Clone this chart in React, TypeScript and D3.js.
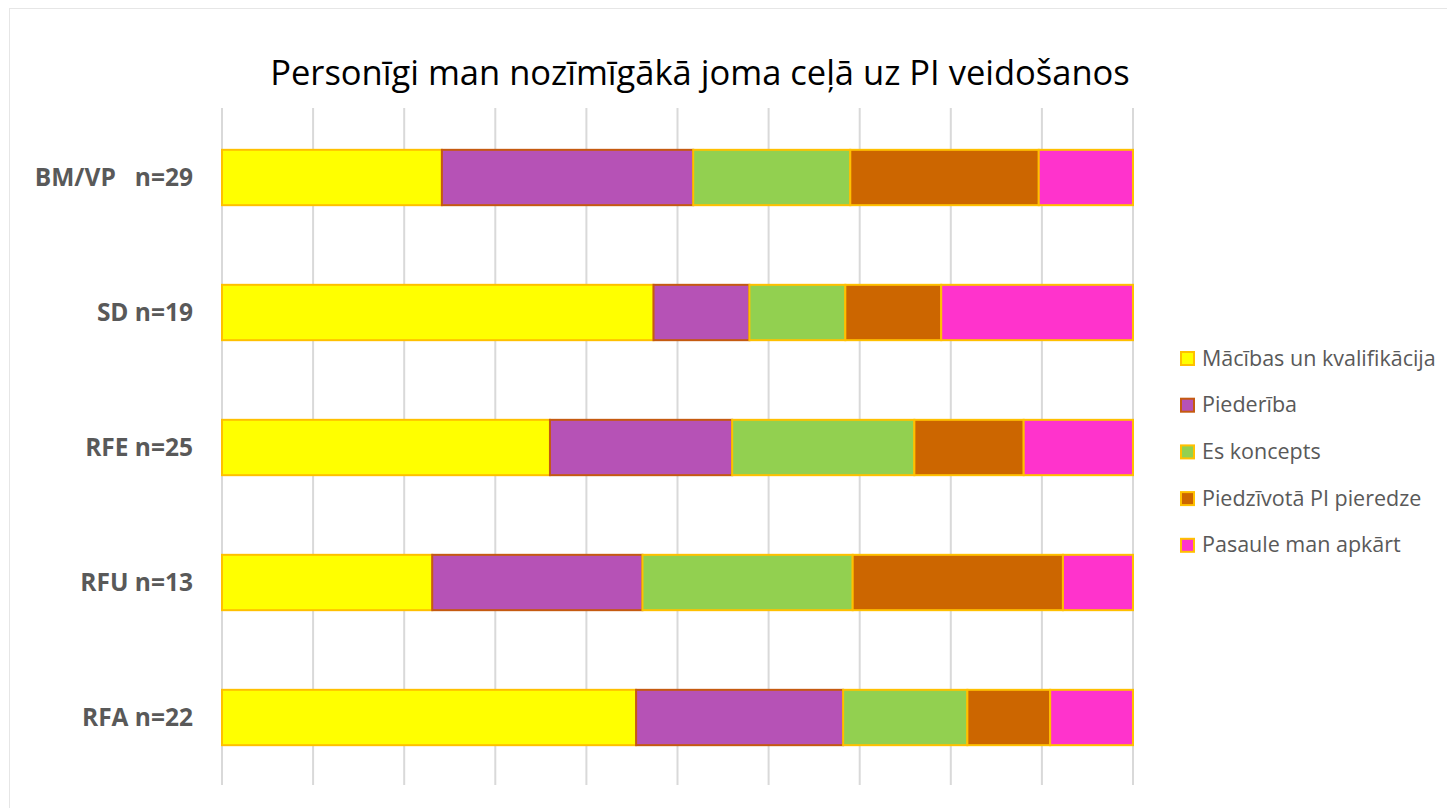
import React, { useEffect, useRef } from "react";
import * as d3 from "d3";

const categories = ["BM/VP   n=29", "SD n=19", "RFE n=25", "RFU n=13", "RFA n=22"];
const seriesNames = [
  "Mācības un kvalifikācija",
  "Piederība",
  "Es koncepts",
  "Piedzīvotā PI pieredze",
  "Pasaule man apkārt",
];
// answer counts per group, in series order
const macibas = [7, 9, 9, 3, 10];
const piederiba = [8, 2, 5, 3, 5];
const esKoncepts = [5, 2, 5, 3, 3];
const pieredze = [6, 2, 3, 3, 2];
const pasaule = [3, 4, 3, 1, 2];
const fills = ["#FFFF00", "#B652B6", "#92D050", "#CC6600", "#FF33CC"];
const strokes = ["#FFC000", "#C55A11", "#FFC000", "#FFC000", "#FFC000"];
const gridTicks = [0, 0.1, 0.2, 0.3, 0.4, 0.5, 0.6, 0.7, 0.8, 0.9, 1];

export default function App() {
  const ref = useRef<SVGSVGElement>(null);

  useEffect(() => {
    const width = 1447;
    const height = 808;
    const svg = d3.select(ref.current);
    svg.selectAll("*").remove();

    svg.append("rect")
      .attr("x", 9.5).attr("y", 8.5)
      .attr("width", 1460).attr("height", 820)
      .attr("fill", "white").attr("stroke", "#E6E6E6");

    const left = 222, right = 1133, top = 110, bottom = 785;
    const x = d3.scaleLinear().domain([0, 1]).range([left, right]);
    const y = d3.scaleBand().domain(categories).range([top, bottom]).paddingInner(0.59).paddingOuter(0.295);

    svg.append("g")
      .selectAll("line")
      .data(gridTicks)
      .enter()
      .append("line")
      .attr("x1", (d) => x(d)).attr("x2", (d) => x(d))
      .attr("y1", top - 2).attr("y2", bottom)
      .attr("stroke", "#D9D9D9").attr("stroke-width", 2);

    const rows = categories.map((c, i) => {
      const vals = [macibas[i], piederiba[i], esKoncepts[i], pieredze[i], pasaule[i]];
      const total = d3.sum(vals);
      const row: any = { cat: c };
      seriesNames.forEach((s, j) => (row[s] = vals[j] / total));
      return row;
    });
    const stacked = d3.stack().keys(seriesNames)(rows);

    stacked.forEach((layer, j) => {
      svg.append("g")
        .selectAll("rect")
        .data(layer)
        .enter()
        .append("rect")
        .attr("x", (d) => x(d[0]))
        .attr("y", (d: any) => y(d.data.cat)!)
        .attr("width", (d) => x(d[1]) - x(d[0]))
        .attr("height", y.bandwidth())
        .attr("fill", fills[j])
        .attr("stroke", strokes[j])
        .attr("stroke-width", 2);
    });

    svg.append("g")
      .selectAll("text")
      .data(categories)
      .enter()
      .append("text")
      .attr("x", 193)
      .attr("y", (d) => y(d)! + y.bandwidth() / 2)
      .attr("dy", "0.35em")
      .attr("text-anchor", "end")
      .attr("font-family", "'Open Sans', sans-serif")
      .attr("font-weight", "bold")
      .attr("font-size", 24.5)
      .attr("fill", "#595959")
      .style("white-space", "pre")
      .text((d) => d);

    svg.append("text")
      .attr("x", 700).attr("y", 85)
      .attr("text-anchor", "middle")
      .attr("font-family", "'Open Sans', sans-serif")
      .attr("font-size", 34.5)
      .attr("fill", "#000")
      .text("Personīgi man nozīmīgākā joma ceļā uz PI veidošanos");

    const legend = svg.append("g")
      .selectAll("g")
      .data(seriesNames)
      .enter()
      .append("g")
      .attr("transform", (_, i) => `translate(1181,${358 + i * 46.7})`);
    legend.append("rect")
      .attr("x", 0).attr("y", -6)
      .attr("width", 13).attr("height", 13)
      .attr("fill", (_, i) => fills[i])
      .attr("stroke", (_, i) => strokes[i])
      .attr("stroke-width", 2);
    legend.append("text")
      .attr("x", 21).attr("dy", "0.35em")
      .attr("font-family", "'Open Sans', sans-serif")
      .attr("font-size", 21.5)
      .attr("fill", "#595959")
      .text((d) => d);

    svg.attr("width", width).attr("height", height);
  }, []);

  return <svg ref={ref} style={{ display: "block", position: "absolute", left: 0, top: 0 }} />;
}
